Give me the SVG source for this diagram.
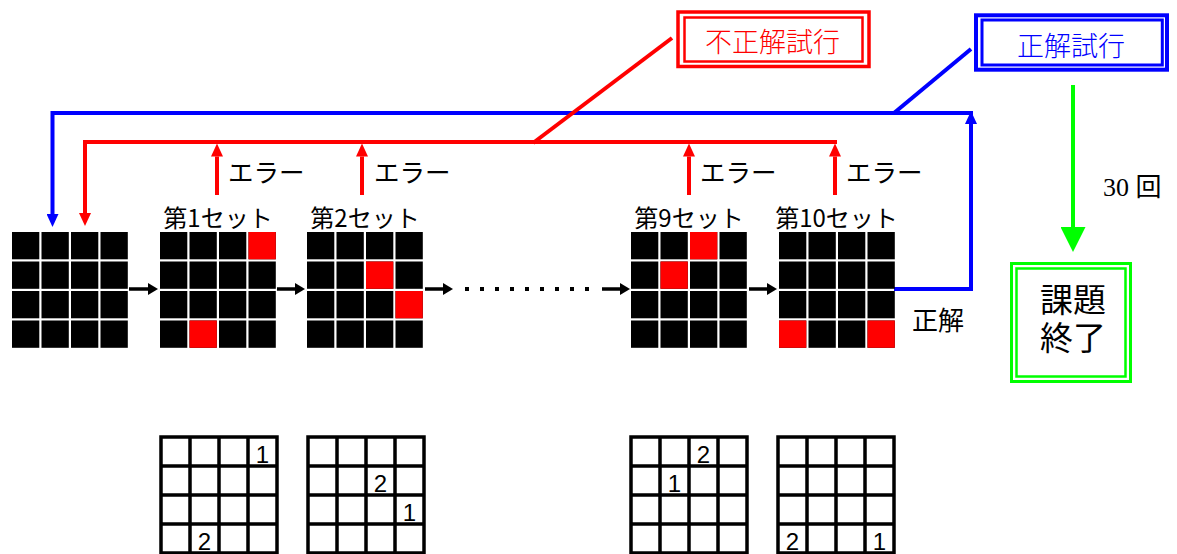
<svg xmlns="http://www.w3.org/2000/svg" width="1177" height="554" viewBox="0 0 1177 554">
<style>
.jp{font-family:"Noto Sans CJK JP","Noto Sans",sans-serif;fill:#000}
.lbl{font-size:24px}
.err{font-size:25.5px}
.dig{font-family:"Liberation Sans",Arial,sans-serif;font-size:24px;fill:#000;text-anchor:middle}
.red{stroke:#ff0000;stroke-width:4;fill:none}
.blue{stroke:#0000ff;stroke-width:4;fill:none}
.blk{stroke:#000;stroke-width:3.5;fill:none}
.cellr{fill:#ff0000}
</style>
<defs>
<marker id="mk" viewBox="0 0 10 12" markerWidth="10" markerHeight="12" refX="0" refY="6" orient="auto" markerUnits="userSpaceOnUse"><path d="M0,0L10,6L0,12z" fill="#000"/></marker>
<marker id="mr" viewBox="0 0 13 12" markerWidth="13" markerHeight="12" refX="0" refY="6" orient="auto" markerUnits="userSpaceOnUse"><path d="M0,0L13,6L0,12z" fill="#ff0000"/></marker>
<marker id="mb" viewBox="0 0 13 12" markerWidth="13" markerHeight="12" refX="0" refY="6" orient="auto" markerUnits="userSpaceOnUse"><path d="M0,0L13,6L0,12z" fill="#0000ff"/></marker>
<marker id="mg" viewBox="0 0 25 25" markerWidth="25" markerHeight="25" refX="0" refY="12.5" orient="auto" markerUnits="userSpaceOnUse"><path d="M0,0L25,12.5L0,25z" fill="#00ff00"/></marker>
<g id="cells" fill="#000">
<rect x="0" y="0" width="27.3" height="27.3"/><rect x="29.5" y="0" width="27.3" height="27.3"/><rect x="59" y="0" width="27.3" height="27.3"/><rect x="88.5" y="0" width="27.3" height="27.3"/>
<rect x="0" y="29.5" width="27.3" height="27.3"/><rect x="29.5" y="29.5" width="27.3" height="27.3"/><rect x="59" y="29.5" width="27.3" height="27.3"/><rect x="88.5" y="29.5" width="27.3" height="27.3"/>
<rect x="0" y="59" width="27.3" height="27.3"/><rect x="29.5" y="59" width="27.3" height="27.3"/><rect x="59" y="59" width="27.3" height="27.3"/><rect x="88.5" y="59" width="27.3" height="27.3"/>
<rect x="0" y="88.5" width="27.3" height="27.3"/><rect x="29.5" y="88.5" width="27.3" height="27.3"/><rect x="59" y="88.5" width="27.3" height="27.3"/><rect x="88.5" y="88.5" width="27.3" height="27.3"/>
</g>
<g id="lgrid" fill="none" stroke="#000" stroke-width="3.5">
<rect x="0" y="0" width="116" height="116"/>
<path d="M29,0V116M58,0V116M87,0V116M0,29H116M0,58H116M0,87H116"/>
</g>
</defs>
<rect width="1177" height="554" fill="#fff"/>

<g id="connectors">
<path class="red" d="M837,142H85V213" marker-end="url(#mr)"/>
<path class="blue" d="M973,113H52.5V214" marker-end="url(#mb)"/>
<path class="blue" d="M894,289H971V124" marker-end="url(#mb)"/>
<line class="red" x1="533" y1="143" x2="672" y2="38"/>
<line class="blue" x1="894" y1="113" x2="971" y2="49"/>
<line class="red" x1="217" y1="195" x2="217" y2="156.5" marker-end="url(#mr)"/>
<line class="red" x1="362" y1="195" x2="362" y2="156.5" marker-end="url(#mr)"/>
<line class="red" x1="689" y1="195" x2="689" y2="156.5" marker-end="url(#mr)"/>
<line class="red" x1="835" y1="195" x2="835" y2="156.5" marker-end="url(#mr)"/>
<line class="blk" x1="129" y1="289" x2="148" y2="289" marker-end="url(#mk)"/>
<line class="blk" x1="277" y1="289" x2="295" y2="289" marker-end="url(#mk)"/>
<line class="blk" x1="425" y1="289" x2="443" y2="289" marker-end="url(#mk)"/>
<line class="blk" x1="602" y1="289" x2="620" y2="289" marker-end="url(#mk)"/>
<line class="blk" x1="749" y1="289" x2="767" y2="289" marker-end="url(#mk)"/>
<g fill="#000">
<rect x="465" y="287" width="4" height="4"/><rect x="480" y="287" width="4" height="4"/><rect x="495" y="287" width="4" height="4"/>
<rect x="510" y="287" width="4" height="4"/><rect x="525" y="287" width="4" height="4"/><rect x="540" y="287" width="4" height="4"/>
<rect x="555" y="287" width="4" height="4"/><rect x="570" y="287" width="4" height="4"/><rect x="585" y="287" width="4" height="4"/>
</g>
<line x1="1073" y1="85" x2="1073" y2="227" stroke="#00ff00" stroke-width="4" marker-end="url(#mg)"/>
</g>

<g id="err-labels" class="jp err">
<text x="228" y="182">エラー</text>
<text x="374" y="182">エラー</text>
<text x="700" y="182">エラー</text>
<text x="846" y="182">エラー</text>
</g>

<g id="grid0"><use href="#cells" x="12" y="232"/></g>
<g id="set1">
<text class="jp lbl" x="218" y="227" text-anchor="middle">第1セット</text>
<use href="#cells" x="160" y="232"/>
<rect class="cellr" x="248.5" y="232" width="27.3" height="27.3"/>
<rect class="cellr" x="189.5" y="320.5" width="27.3" height="27.3"/>
</g>
<g id="set2">
<text class="jp lbl" x="365" y="227" text-anchor="middle">第2セット</text>
<use href="#cells" x="307" y="232"/>
<rect class="cellr" x="366" y="261.5" width="27.3" height="27.3"/>
<rect class="cellr" x="395.5" y="291" width="27.3" height="27.3"/>
</g>
<g id="set9">
<text class="jp lbl" x="689" y="227" text-anchor="middle">第9セット</text>
<use href="#cells" x="631" y="232"/>
<rect class="cellr" x="690" y="232" width="27.3" height="27.3"/>
<rect class="cellr" x="660.5" y="261.5" width="27.3" height="27.3"/>
</g>
<g id="set10">
<text class="jp lbl" x="836.5" y="227" text-anchor="middle">第10セット</text>
<use href="#cells" x="779" y="232"/>
<rect class="cellr" x="779" y="320.5" width="27.3" height="27.3"/>
<rect class="cellr" x="867.5" y="320.5" width="27.3" height="27.3"/>
</g>

<g id="correct-label"><text class="jp" x="912" y="330" font-size="26">正解</text></g>

<g id="wrong-trial">
<rect x="678" y="12" width="191" height="54.5" fill="#fff" stroke="#ff0000" stroke-width="3.5"/>
<rect x="684.5" y="17.5" width="178" height="44" fill="none" stroke="#ff0000" stroke-width="2.5"/>
<text x="772.5" y="52" text-anchor="middle" font-family="Noto Sans CJK JP, sans-serif" font-weight="300" font-size="27" fill="#ff0000">不正解試行</text>
</g>

<g id="right-trial">
<rect x="976" y="15.3" width="191" height="54.4" fill="#fff" stroke="#0000ff" stroke-width="4"/>
<rect x="982" y="20" width="180.3" height="45" fill="none" stroke="#0000ff" stroke-width="3"/>
<text x="1071" y="56" text-anchor="middle" font-family="Noto Sans CJK JP, sans-serif" font-weight="300" font-size="27" fill="#0000ff">正解試行</text>
</g>

<g id="count"><text x="1103" y="196" font-family="Liberation Serif, Noto Sans CJK JP, serif" font-size="26" fill="#000">30 回</text></g>

<g id="task-end">
<rect x="1011.5" y="263.5" width="119" height="118" fill="#fff" stroke="#00ff00" stroke-width="3"/>
<rect x="1016.5" y="268.5" width="109" height="108" fill="none" stroke="#00ff00" stroke-width="2.5"/>
<text class="jp" text-anchor="middle" font-size="33"><tspan x="1073" y="312">課題</tspan><tspan x="1073" y="350">終了</tspan></text>
</g>

<g id="answer1"><use href="#lgrid" x="161" y="437"/><text class="dig" x="262.5" y="463">1</text><text class="dig" x="204.5" y="550">2</text></g>
<g id="answer2"><use href="#lgrid" x="308" y="437"/><text class="dig" x="380.5" y="492">2</text><text class="dig" x="409.5" y="521">1</text></g>
<g id="answer9"><use href="#lgrid" x="631" y="437"/><text class="dig" x="703.5" y="463">2</text><text class="dig" x="674.5" y="492">1</text></g>
<g id="answer10"><use href="#lgrid" x="778" y="437"/><text class="dig" x="792.5" y="550">2</text><text class="dig" x="879.5" y="550">1</text></g>
</svg>
